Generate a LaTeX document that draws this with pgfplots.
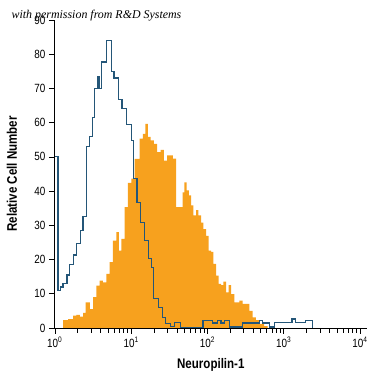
\documentclass[border=0pt]{standalone}
\usepackage{fontspec}
\setmainfont{Liberation Sans}[FakeStretch=0.83]
\newfontfamily\permfont{Liberation Serif}
\usepackage{pgfplots}
\pgfplotsset{compat=1.18}
\definecolor{npOrange}{RGB}{247,161,30}
\definecolor{npBlue}{RGB}{36,86,120}
\begin{document}
\begin{tikzpicture}
\begin{axis}[
  at={(0,0)}, anchor=south west,
  scale only axis, width=313bp, height=309bp,
  xmin=0, xmax=4.09, ymin=0, ymax=90,
  axis lines=left, axis line style={-, black, line width=0.8bp},
  xtick={0,1,2,3,4},
  xticklabels={10\textsuperscript{0},10\textsuperscript{1},10\textsuperscript{2},10\textsuperscript{3},10\textsuperscript{4}},
  minor xtick={0.301,0.477,0.602,0.699,0.778,0.845,0.903,0.954,
               1.301,1.477,1.602,1.699,1.778,1.845,1.903,1.954,
               2.301,2.477,2.602,2.699,2.778,2.845,2.903,2.954,
               3.301,3.477,3.602,3.699,3.778,3.845,3.903,3.954},
  ytick={0,10,...,90},
  tick align=outside, major tick length=6bp, minor tick length=5bp,
  every tick/.style={black, line width=0.6bp},
  tick label style={font=\fontsize{12}{12}\selectfont},
  /pgf/number format/assume math mode=true,
  xlabel={\bfseries Neuropilin-1},
  ylabel={\bfseries Relative Cell Number},
  every axis x label/.style={at={([yshift=-41bp]axis description cs:0.5,0)}, anchor=base, font=\fontsize{14}{14}\selectfont},
  every axis y label/.style={at={([xshift=-43bp]axis description cs:0,0.5)}, rotate=90, anchor=center, font=\fontsize{14}{14}\selectfont},
]
\addplot[const plot, fill=npOrange, draw=none] coordinates {
(0.108,2.3) (0.174,2.6) (0.239,3.6) (0.284,3.8) (0.327,3.3) (0.370,4.4)
(0.405,7.5) (0.458,5.5) (0.501,9.0) (0.545,12.4) (0.588,13.8) (0.631,13.3)
(0.676,15.8) (0.719,19.2) (0.762,25.5) (0.807,28.0) (0.841,22.6) (0.872,26.0)
(0.915,35.3) (0.958,42.4) (1.003,43.6) (1.046,49.4) (1.111,55.3) (1.154,56.7)
(1.186,59.6) (1.220,55.8) (1.255,54.8) (1.298,53.8) (1.342,51.4) (1.386,52.0)
(1.429,48.9) (1.473,50.4) (1.546,49.5) (1.590,35.3) (1.677,39.6) (1.699,42.5)
(1.729,40.2) (1.756,38.7) (1.787,35.8) (1.817,32.9) (1.852,34.4) (1.882,32.9)
(1.918,30.8) (1.948,28.9) (1.983,26.9) (2.017,22.6) (2.048,22.2) (2.078,18.7)
(2.114,15.3) (2.148,12.9) (2.179,12.5) (2.209,13.5) (2.244,10.4) (2.278,12.5)
(2.310,9.9) (2.353,7.5) (2.418,8.0) (2.461,7.0) (2.549,5.0) (2.592,3.1)
(2.637,2.3) (2.680,1.2) (2.745,0.5) (2.788,0)
} \closedcycle;
\addplot[const plot, draw=npBlue, line width=1.3bp] coordinates {
(0,50) (0.043,10.9) (0.078,12.0) (0.108,13.0) (0.161,15.5) (0.196,18.5)
(0.248,21.3) (0.284,24.6) (0.336,28.5) (0.370,32.6) (0.414,53.0) (0.458,56.0)
(0.493,61.4) (0.523,69.9) (0.558,73.3) (0.579,69.9) (0.610,77.7) (0.676,84.0)
(0.741,75.0) (0.775,73.0) (0.837,66.7) (0.880,64.2) (0.937,59.4) (1.003,54.8)
(1.033,43.6) (1.076,36.7) (1.120,30.9) (1.176,25.5) (1.229,20.2) (1.264,17.7)
(1.294,8.5) (1.363,6.0) (1.416,3.1) (1.451,1.2) (1.512,0.4) (1.569,1.6)
(1.647,0.2) (1.941,2.1) (2.069,1.4) (2.135,2.1) (2.179,1.4) (2.222,2.1)
(2.288,0.3) (2.461,1.4) (2.680,2.1) (2.723,1.4) (2.810,0.3) (2.876,1.6)
(3.111,2.6) (3.159,1.6) (3.290,2.1) (3.376,0)
};
\end{axis}
\node[anchor=base west, inner sep=0pt, font=\permfont\itshape\fontsize{12}{12}\selectfont] at (-43.5bp,310bp) {with permission from R\&D Systems};
\useasboundingbox (-55bp,-46bp) rectangle (320bp,329bp);
\end{tikzpicture}
\end{document}
